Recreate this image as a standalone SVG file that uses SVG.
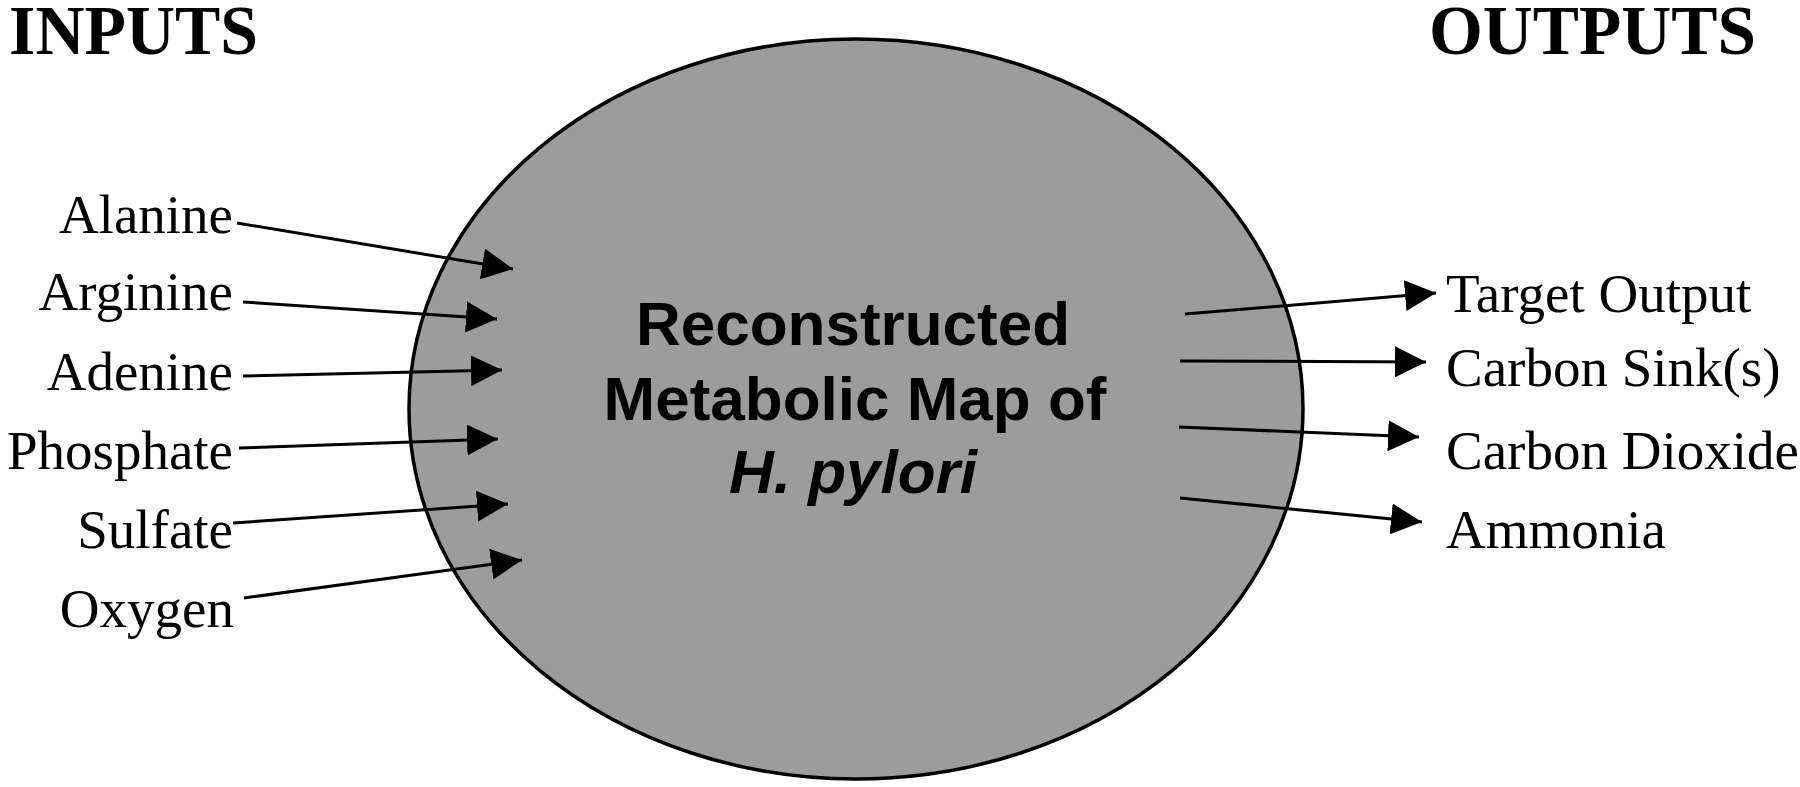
<svg xmlns="http://www.w3.org/2000/svg" width="1800" height="787" viewBox="0 0 1800 787">
<style>
.hdr{font-family:"Liberation Serif","Times New Roman",serif;font-weight:bold;font-size:70px;fill:#000}
.lbl{font-family:"Liberation Serif","Times New Roman",serif;font-size:55px;fill:#000}
.in{text-anchor:end}
.ctr{font-family:"Liberation Sans",Arial,sans-serif;font-weight:bold;font-size:62px;fill:#000;text-anchor:middle}
.arr{stroke:#000;stroke-width:3;fill:none;marker-end:url(#ah)}
</style>
<defs>
<marker id="ah" markerUnits="userSpaceOnUse" markerWidth="31" markerHeight="31" refX="31" refY="15.5" orient="auto">
<path d="M0,0 L31,15.5 L0,31 z" fill="#000"/>
</marker>
</defs>
<rect width="1800" height="787" fill="#fff"/>
<text class="hdr" x="9" y="54" textLength="249" lengthAdjust="spacingAndGlyphs">INPUTS</text>
<text class="hdr" x="1429" y="54" textLength="327" lengthAdjust="spacingAndGlyphs">OUTPUTS</text>
<g id="map">
<ellipse cx="856" cy="409" rx="447" ry="370" fill="#9c9c9c" stroke="#000" stroke-width="3.5"/>
<text class="ctr" x="853" y="345">Reconstructed</text>
<text class="ctr" x="855" y="420">Metabolic Map of</text>
<text class="ctr" x="853" y="493" font-style="italic">H. pylori</text>
</g>
<g id="in-alanine"><text class="lbl in" x="233" y="233">Alanine</text></g>
<g id="in-arginine"><text class="lbl in" x="233" y="310">Arginine</text></g>
<g id="in-adenine"><text class="lbl in" x="233" y="390">Adenine</text></g>
<g id="in-phosphate"><text class="lbl in" x="233" y="469">Phosphate</text></g>
<g id="in-sulfate"><text class="lbl in" x="233" y="548">Sulfate</text></g>
<g id="in-oxygen"><text class="lbl in" x="234" y="627">Oxygen</text></g>
<g id="out-target"><text class="lbl" x="1446" y="312">Target Output</text></g>
<g id="out-sink"><text class="lbl" x="1446" y="386">Carbon Sink(s)</text></g>
<g id="out-co2"><text class="lbl" x="1446" y="469">Carbon Dioxide</text></g>
<g id="out-nh3"><text class="lbl" x="1446" y="548">Ammonia</text></g>
<g id="connectors">
<line class="arr" x1="237" y1="223" x2="513" y2="269"/>
<line class="arr" x1="243" y1="302" x2="497" y2="319"/>
<line class="arr" x1="243" y1="376" x2="502" y2="370"/>
<line class="arr" x1="239" y1="448" x2="498" y2="439"/>
<line class="arr" x1="233" y1="523" x2="508" y2="504"/>
<line class="arr" x1="244" y1="598" x2="522" y2="560"/>
<line class="arr" x1="1185" y1="314" x2="1436" y2="293"/>
<line class="arr" x1="1180" y1="361" x2="1426" y2="362"/>
<line class="arr" x1="1179" y1="427" x2="1419" y2="437"/>
<line class="arr" x1="1180" y1="498" x2="1422" y2="522"/>
</g>
</svg>
